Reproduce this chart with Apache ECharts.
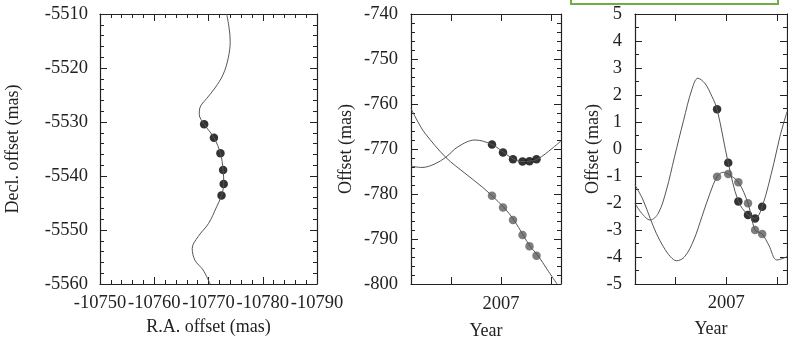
<!DOCTYPE html>
<html>
<head>
<meta charset="utf-8">
<script src="https://cdn.jsdelivr.net/npm/echarts@6/dist/echarts.min.js"></script>
<style>
  html, body { margin: 0; padding: 0; background: #fff; }
  #chart { width: 788px; height: 347px; }
</style>
</head>
<body>
<div id="chart"></div>
<script>
// panel 1: sky track, [R.A. offset, Decl. offset] in mas
const trackCurve = [
  [-10773.35, -5510.0], [-10773.8, -5512.6], [-10774.0, -5515.1], [-10773.65, -5518.1],
  [-10772.7, -5521.2], [-10771.2, -5523.7], [-10769.7, -5525.6], [-10768.4, -5527.4],
  [-10768.3, -5528.6], [-10769.2, -5530.4], [-10771.0, -5532.9], [-10772.2, -5535.8],
  [-10772.7, -5538.9], [-10772.8, -5541.5], [-10772.4, -5543.6], [-10771.5, -5545.7],
  [-10770.0, -5548.8], [-10768.1, -5551.2], [-10767.0, -5553.4], [-10767.5, -5555.6],
  [-10769.0, -5557.4], [-10770.3, -5560.0]
]
const trackPoints = [
  [-10769.2, -5530.4], [-10771.0, -5532.9], [-10772.2, -5535.8],
  [-10772.7, -5538.9], [-10772.8, -5541.5], [-10772.4, -5543.6]
]

// epochs of the observations
const obsYears = [2006.91, 2007.02, 2007.12, 2007.215, 2007.285, 2007.355]

// panel 2: offsets vs time (mas)
const offBlack = [-769.0, -770.8, -772.3, -772.8, -772.7, -772.3]
const offGrey = [-780.4, -783.0, -785.8, -789.1, -791.6, -793.7]
const offBlackCurve = [
  [2006.10, -773.8], [2006.21, -774.1], [2006.34, -773.3], [2006.45, -771.8],
  [2006.57, -769.5], [2006.74, -768.0], [2006.91, -769.0], [2007.03, -770.8],
  [2007.13, -772.3], [2007.22, -772.8], [2007.29, -772.7], [2007.37, -772.2],
  [2007.51, -769.9], [2007.60, -768.2]
]
const offGreyCurve = [
  [2006.10, -761.0], [2006.17, -764.0], [2006.24, -766.5], [2006.45, -771.9],
  [2006.64, -775.4], [2006.81, -778.4], [2006.91, -780.4], [2007.03, -783.0],
  [2007.13, -785.8], [2007.22, -789.1], [2007.29, -791.6], [2007.37, -793.7],
  [2007.46, -796.7], [2007.56, -800.0]
]

// panel 3: residual offsets vs time (mas)
const resBlack = [1.47, -0.51, -1.94, -2.44, -2.57, -2.14]
const resGrey = [-1.03, -0.93, -1.23, -2.01, -3.0, -3.15]
const resBlackCurve = [
  [2006.10, -2.01], [2006.166, -2.38], [2006.25, -2.63], [2006.33, -2.38],
  [2006.41, -1.52], [2006.49, -0.29], [2006.58, 1.07], [2006.66, 2.19],
  [2006.72, 2.62], [2006.79, 2.43], [2006.86, 1.94], [2006.91, 1.47],
  [2007.02, -0.51], [2007.12, -1.94], [2007.215, -2.44], [2007.285, -2.57],
  [2007.355, -2.14], [2007.47, -0.53], [2007.53, 0.46], [2007.60, 1.38]
]
const resGreyCurve = [
  [2006.10, -1.33], [2006.18, -1.89], [2006.25, -2.57], [2006.31, -3.12],
  [2006.38, -3.62], [2006.45, -3.99], [2006.51, -4.14], [2006.59, -3.99],
  [2006.68, -3.37], [2006.76, -2.51], [2006.84, -1.64], [2006.91, -1.03],
  [2006.97, -0.86], [2007.02, -0.93], [2007.12, -1.23], [2007.215, -2.01],
  [2007.285, -3.0], [2007.355, -3.15], [2007.42, -3.56], [2007.50, -4.11],
  [2007.60, -3.99]
]

const yearTicks = [2006.5, 2007, 2007.5]
const yearLabels = [2007]

const FONT = 'Liberation Serif'
const INK = '#222'

function axisPair(kind, gridIndex, o) {
  const base = {
    type: 'value',
    gridIndex,
    min: o.min,
    max: o.max,
    interval: o.interval,
    inverse: !!o.inverse,
    axisLine: { show: true, onZero: false, lineStyle: { color: INK, width: 1.2 } },
    axisTick: { show: true, inside: true, length: 7, lineStyle: { color: INK, width: 1 }, customValues: o.ticks },
    minorTick: { show: !!o.minor, splitNumber: o.minor || 5, length: 4, lineStyle: { color: INK, width: 1 } },
    splitLine: { show: false }
  }
  const main = Object.assign({}, base, {
    position: kind === 'x' ? 'bottom' : 'left',
    name: o.name,
    nameLocation: 'middle',
    nameGap: o.nameGap,
    nameTextStyle: { fontFamily: FONT, fontSize: 18, color: INK },
    axisLabel: {
      show: true, margin: o.margin, fontFamily: FONT, fontSize: 18.5, color: INK,
      customValues: o.labels, showMinLabel: true, showMaxLabel: true, hideOverlap: false,
      formatter: v => String(v)
    }
  })
  const mirror = Object.assign({}, base, {
    position: kind === 'x' ? 'top' : 'right',
    name: '',
    axisLabel: { show: false }
  })
  return [main, mirror]
}

const xAxes = [
  ...axisPair('x', 0, { min: -10790, max: -10750, interval: 10, inverse: true, minor: 5, name: 'R.A. offset (mas)', nameGap: 33, margin: 10 }),
  ...axisPair('x', 1, { min: 2006.1, max: 2007.6, ticks: yearTicks, labels: yearLabels, name: 'Year', nameGap: 38, margin: 11 }),
  ...axisPair('x', 2, { min: 2006.1, max: 2007.6, ticks: yearTicks, labels: yearLabels, name: 'Year', nameGap: 36, margin: 10 })
]
const yAxes = [
  ...axisPair('y', 0, { min: -5560, max: -5510, interval: 10, minor: 5, name: 'Decl. offset (mas)', nameGap: 78, margin: 12 }),
  ...axisPair('y', 1, { min: -800, max: -740, interval: 10, minor: 5, name: 'Offset (mas)', nameGap: 56, margin: 13 }),
  ...axisPair('y', 2, { min: -5, max: 5, interval: 1, minor: 2, name: 'Offset (mas)', nameGap: 33, margin: 13 })
]

function curve(data, axis) {
  return {
    type: 'line', data, xAxisIndex: axis, yAxisIndex: axis,
    showSymbol: false, smooth: 0.35, silent: true,
    lineStyle: { color: '#555', width: 1 }
  }
}
function dots(data, axis, color) {
  return {
    type: 'scatter', data, xAxisIndex: axis, yAxisIndex: axis,
    symbolSize: 8.5, itemStyle: { color }, silent: true
  }
}
const zip = (xs, ys) => xs.map((x, i) => [x, ys[i]])

const option = {
  backgroundColor: '#fff',
  animation: false,
  grid: [
    { left: 100, top: 14, width: 217, height: 270 },
    { left: 411, top: 14, width: 150, height: 270 },
    { left: 635, top: 14, width: 152, height: 270 }
  ],
  xAxis: xAxes,
  yAxis: yAxes,
  graphic: [{
    type: 'rect',
    shape: { x: 571, y: -2, width: 207, height: 6 },
    style: { fill: 'none', stroke: '#70ad47', lineWidth: 2 }
  }],
  series: [
    curve(trackCurve, 0),
    dots(trackPoints, 0, '#000'),
    curve(offBlackCurve, 2),
    curve(offGreyCurve, 2),
    dots(zip(obsYears, offBlack), 2, '#000'),
    dots(zip(obsYears, offGrey), 2, '#5e5e5e'),
    curve(resBlackCurve, 4),
    curve(resGreyCurve, 4),
    dots(zip(obsYears, resGrey), 4, '#5e5e5e'),
    dots(zip(obsYears, resBlack), 4, '#000')
  ]
}

const chart = echarts.init(document.getElementById('chart'), null, { renderer: 'canvas' })
chart.setOption(option)
</script>
</body>
</html>
